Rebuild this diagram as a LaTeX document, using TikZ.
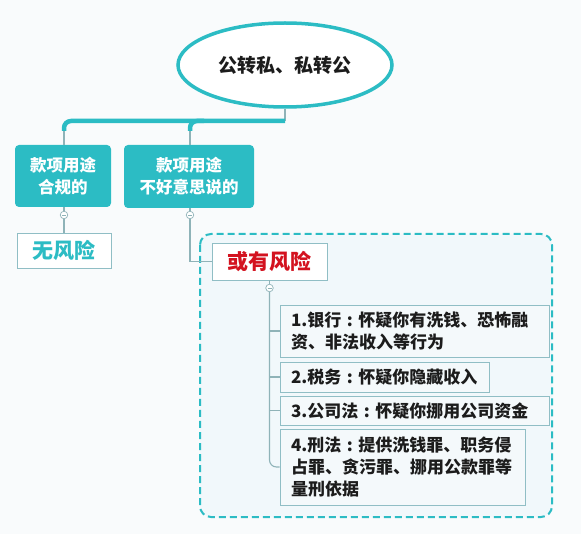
\documentclass[tikz,border=0pt]{standalone}
\usepackage{fontspec}
\newfontfamily\cjk{Noto Sans CJK SC}
\usetikzlibrary{shapes.geometric}
\definecolor{tealc}{HTML}{2CBCC4}
\definecolor{linec}{HTML}{8FB3B8}
\definecolor{itemb}{HTML}{90BEC5}
\definecolor{itemf}{HTML}{F4F9FB}
\definecolor{bgc}{HTML}{F9FBFC}
\definecolor{regf}{HTML}{F1F8FB}
\definecolor{redc}{HTML}{D3121F}
\definecolor{txt}{HTML}{1C1C1C}
\newcommand{\cc}{\hbox to 1em{\hss:\hss}}
\tikzset{
  rootnode/.style={ellipse, draw=tealc, line width=3.5pt, fill=white, minimum width=214pt, minimum height=84pt, inner sep=0pt, font=\cjk\bfseries\fontsize{19}{22}\selectfont, text=txt},
  catbox/.style={rectangle, rounded corners=4pt, fill=tealc, inner sep=0pt, align=center, text=white, font=\cjk\bfseries\fontsize{16.5}{22}\selectfont},
  riskbox/.style={rectangle, draw=itemb, line width=0.8pt, fill=white, inner sep=0pt, font=\cjk\bfseries\fontsize{21}{24}\selectfont},
  itembox/.style={rectangle, draw=itemb, line width=0.8pt, fill=itemf, inner xsep=11pt, inner ysep=0pt, align=left, text=txt, font=\cjk\bfseries\fontsize{17}{22}\selectfont},
  tog/.style={circle, draw=linec, line width=0.7pt, fill=white, minimum size=7.5pt, inner sep=0pt},
  conn/.style={draw=linec, line width=1.1pt},
  bar/.style={draw=tealc, line width=4.5pt},
  region/.style={draw=tealc, line width=2pt, dash pattern=on 7pt off 4pt, rounded corners=11pt, fill=regf}
}
\begin{document}
\begin{tikzpicture}[x=1pt,y=-1pt]
\fill[bgc] (0,0) rectangle (581,534);
\useasboundingbox (0,0) rectangle (581,534);

% dashed region
\draw[region] (200,234) rectangle (552,517);

% root and categories
\node[rootnode] (root) at (285,65) {公转私、私转公};
\node[catbox, minimum width=96pt, minimum height=62pt] (b1) at (63,176) {款项用途\\合规的};
\node[catbox, minimum width=130pt, minimum height=63pt] (b2) at (189,176.5) {款项用途\\不好意思说的};

\coordinate (j) at (285,121);
\coordinate (j1) at (64,121);
\coordinate (j2) at (190,121);
\coordinate (j1d) at (64,131);
\coordinate (j2d) at (190,131);
\coordinate (j2r) at (204,121);

\draw[conn] (root.south) -- (j);
\draw[conn] (j1d) -- (j1d |- b1.north);
\draw[conn] (j2d) -- (j2d |- b2.north);
\draw[bar, rounded corners=7pt] (j) -- (j1) -- (j1d);
\draw[bar, rounded corners=7pt] (j2r) -- (j2) -- (j2d);

% risk nodes
\node[riskbox, minimum width=94pt, minimum height=35pt, text=tealc] (n1) at (64,250.5) {无风险};
\node[riskbox, minimum width=115pt, minimum height=37pt, text=redc] (n2) at (269.5,261.5) {或有风险};

\node[tog] (c1) at (64,215) {};
\node[tog] (c2) at (190,215) {};
\node[tog] (c3) at (269.5,288) {};

\draw[conn] (b1.south -| c1) -- (c1);
\draw[conn] (c1) -- (c1 |- n1.north);
\draw[conn] (b2.south -| c2) -- (c2);
\draw[conn] (c2) |- (n2.west);
\draw[conn] (n2.south -| c3) -- (c3);

% items
\node[itembox, text width=247pt, minimum height=52pt] (i1) at (414.5,331) {1.银行\cc 怀疑你有洗钱、恐怖融\\资、非法收入等行为};
\node[itembox, text width=187pt, minimum height=30pt] (i2) at (384.5,377) {2.税务\cc 怀疑你隐藏收入};
\node[itembox, text width=247pt, minimum height=29pt] (i3) at (414.5,410.5) {3.公司法\cc 怀疑你挪用公司资金};
\node[itembox, text width=223pt, minimum height=76pt] (i4) at (402.5,467) {4.刑法\cc 提供洗钱罪、职务侵\\占罪、贪污罪、挪用公款罪等\\量刑依据};

\draw[conn] (c3) |- (i1.west);
\draw[conn] (c3) |- (i2.west);
\draw[conn] (c3) |- (i3.west);
\draw[conn, rounded corners=7pt] (c3) |- (i4.west);

% minus marks in toggles
\foreach \c in {c1,c2,c3}{
  \draw[linec, line width=0.7pt] ([xshift=-2pt]\c.center) -- ([xshift=2pt]\c.center);
}
\end{tikzpicture}
\end{document}
